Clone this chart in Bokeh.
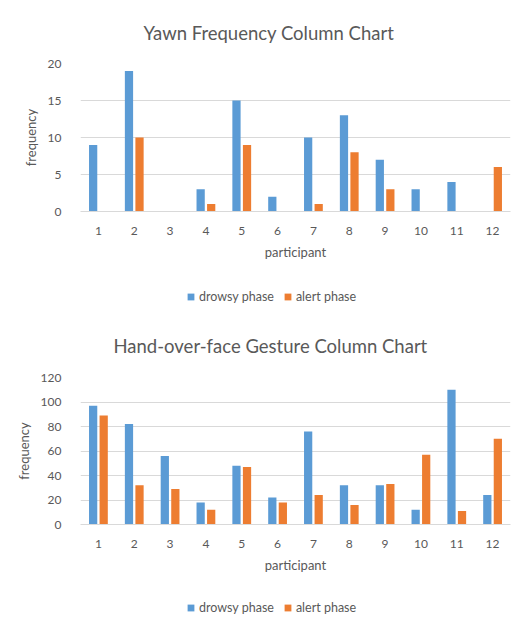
from bokeh.plotting import figure
from bokeh.models import Range1d, FixedTicker, Legend, LegendItem, ColumnDataSource
from bokeh.transform import dodge
from bokeh.layouts import column
from bokeh.embed import file_html
from bokeh.resources import INLINE

participants = list(range(1, 13))
tick_labels = [str(i) for i in participants]
yawn_drowsy = [9, 19, 0, 3, 15, 2, 10, 13, 7, 3, 4, 0]
yawn_alert = [0, 10, 0, 1, 9, 0, 1, 8, 3, 0, 0, 6]
hand_drowsy = [97, 82, 56, 18, 48, 22, 76, 32, 32, 12, 110, 24]
hand_alert = [89, 32, 29, 12, 47, 18, 24, 16, 33, 57, 11, 70]
yawn_ticks = [0, 5, 10, 15, 20]
hand_ticks = [0, 20, 40, 60, 80, 100, 120]
series_names = ["drowsy phase", "alert phase"]

BLUE = "#5B9BD5"
ORANGE = "#ED7D31"
GRID = "#D9D9D9"
TEXT = "#595959"
FONT = "Lato"
W = 514
LEFT = 80
FRAME_W = 430


def make_chart(title, drowsy, alert, yticks, top, frame_h, bottom,
               title_off, title_standoff):
    ymax = yticks[-1]
    p = figure(frame_width=FRAME_W, frame_height=frame_h,
               output_backend="svg", toolbar_location=None,
               x_range=Range1d(0.5, 12.5), y_range=Range1d(0, ymax),
               min_border_left=LEFT, min_border_right=W - LEFT - FRAME_W,
               min_border_top=top, min_border_bottom=bottom)
    p.outline_line_color = None
    p.background_fill_color = "white"
    p.border_fill_color = "white"

    p.title.text = title
    p.title.align = "left"
    p.title.offset = title_off
    p.title.standoff = title_standoff
    p.title.text_font = FONT
    p.title.text_font_size = "18.5px"
    p.title.text_font_style = "normal"
    p.title.text_color = TEXT

    src = ColumnDataSource(dict(x=participants, d=drowsy, a=alert))
    p.vbar(x=dodge("x", -0.147, range=p.x_range), top="d", width=0.23, source=src,
           fill_color=BLUE, line_color=None)
    p.vbar(x=dodge("x", 0.147, range=p.x_range), top="a", width=0.23, source=src,
           fill_color=ORANGE, line_color=None)

    p.xaxis.ticker = FixedTicker(ticks=participants)
    p.xaxis.major_label_overrides = {i: s for i, s in zip(participants, tick_labels)}
    p.xaxis.axis_label = "participant"
    p.xaxis.axis_line_color = GRID
    p.xaxis.major_tick_line_color = None
    p.xaxis.minor_tick_line_color = None
    p.xaxis.major_label_standoff = 9
    p.xaxis.axis_label_standoff = 6

    p.yaxis.ticker = FixedTicker(ticks=yticks)
    p.yaxis.axis_label = "frequency"
    p.yaxis.axis_line_color = None
    p.yaxis.major_tick_line_color = None
    p.yaxis.minor_tick_line_color = None
    p.yaxis.major_label_standoff = 13
    p.yaxis.axis_label_standoff = 6

    for ax in (p.xaxis[0], p.yaxis[0]):
        ax.major_label_text_font = FONT
        ax.major_label_text_font_size = "12px"
        ax.major_label_text_color = TEXT
        ax.axis_label_text_font = FONT
        ax.axis_label_text_font_size = "13px"
        ax.axis_label_text_font_style = "normal"
        ax.axis_label_text_color = TEXT

    p.xgrid.grid_line_color = None
    p.ygrid.ticker = FixedTicker(ticks=yticks)
    p.ygrid.grid_line_color = GRID
    p.ygrid.grid_line_width = 1
    return p


def make_legend_strip(height, loc):
    s = figure(frame_width=FRAME_W, height=height, output_backend="svg",
               toolbar_location=None, x_range=Range1d(0, 1), y_range=Range1d(0, 1),
               x_axis_type=None, y_axis_type=None,
               min_border_left=LEFT, min_border_right=W - LEFT - FRAME_W,
               min_border_top=0, min_border_bottom=0)
    s.outline_line_color = None
    s.grid.visible = False
    s.title.visible = False
    # legend keys only: one undrawable point each, so the legend has a glyph to show
    k1 = s.scatter(x=[float("nan")], y=[float("nan")], marker="square",
                   fill_color=BLUE, line_color=None)
    k2 = s.scatter(x=[float("nan")], y=[float("nan")], marker="square",
                   fill_color=ORANGE, line_color=None)
    legend = Legend(items=[LegendItem(label=series_names[0], renderers=[k1]),
                           LegendItem(label=series_names[1], renderers=[k2])],
                    orientation="horizontal", location=loc,
                    border_line_color=None, background_fill_alpha=0,
                    padding=0, margin=0, spacing=5, label_standoff=-1,
                    glyph_width=17, glyph_height=17, label_height=17,
                    label_text_font=FONT, label_text_font_size="12.5px",
                    label_text_color=TEXT)
    s.add_layout(legend, "center")
    return s


p1 = make_chart("Yawn Frequency Column Chart", yawn_drowsy, yawn_alert, yawn_ticks,
                top=63, frame_h=148, bottom=69, title_off=63, title_standoff=39)
leg1 = make_legend_strip(32, (102, 7))
p2 = make_chart("Hand-over-face Gesture Column Chart", hand_drowsy, hand_alert, hand_ticks,
                top=60, frame_h=147, bottom=66, title_off=33, title_standoff=41)
leg2 = make_legend_strip(26, (102, 0))

layout = column(p1, leg1, p2, leg2, spacing=0)
open("out.html", "w").write(file_html(layout, INLINE))
